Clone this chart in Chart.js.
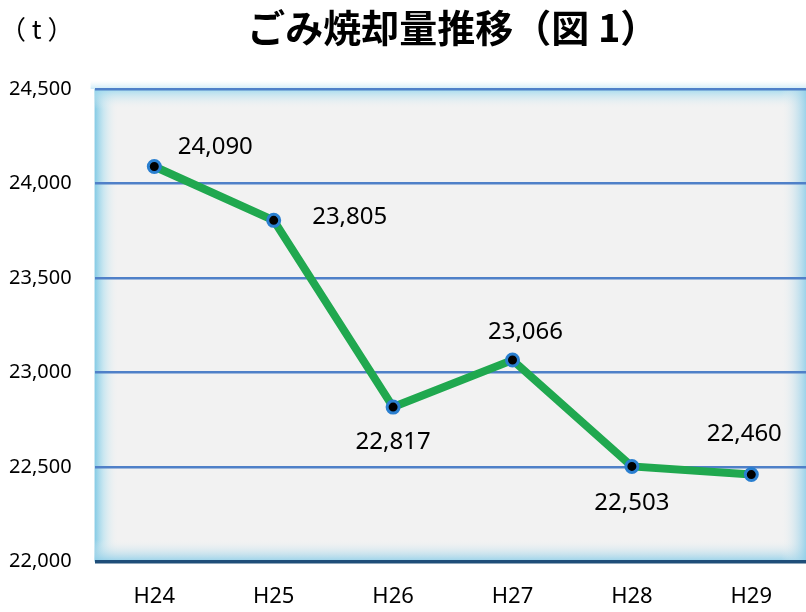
<!DOCTYPE html>
<html lang="ja">
<head>
<meta charset="utf-8">
<script src="https://cdn.jsdelivr.net/npm/chart.js@4"></script>
<style>
	html, body { margin: 0; padding: 0; background: #fff; overflow: hidden; }
	canvas { display: block; }
</style>
</head>
<body>
<canvas id="chart-gomi" width="812" height="612"></canvas>
<script>
// Data
const YEARS = ["H24", "H25", "H26", "H27", "H28", "H29"];
const TONNES = [24090, 23805, 22817, 23066, 22503, 22460];
const Y_TICKS = [22000, 22500, 23000, 23500, 24000, 24500];
const TITLE = "ごみ焼却量推移（図 1）";
const UNIT = "（ t ）";

// where each value label sits relative to its point (px)
const LABEL_OFFSETS = [[61, -19], [76, -3], [0, 35], [13, -28], [0, 37], [-7, -40]];

const fmt = (v) => v.toLocaleString("en-US");

// plot background with the soft blue glow round the edges
const frameBg = {
	id: "frameBg",
	beforeDraw(chart) {
		const { ctx, chartArea: a } = chart;
		const w = a.right - a.left, h = a.bottom - a.top;
		ctx.save();
		ctx.fillStyle = "#f2f2f2";
		ctx.fillRect(a.left, a.top, w, h);

		let g = ctx.createLinearGradient(a.left, 0, a.left + 24, 0);
		g.addColorStop(0, "rgba(125,200,228,0.95)");
		g.addColorStop(0.4, "rgba(180,225,240,0.6)");
		g.addColorStop(1, "rgba(242,242,242,0)");
		ctx.fillStyle = g;
		ctx.fillRect(a.left, a.top, 24, h);

		g = ctx.createLinearGradient(0, a.top, 0, a.top + 20);
		g.addColorStop(0, "rgba(150,215,238,0.85)");
		g.addColorStop(1, "rgba(242,242,242,0)");
		ctx.fillStyle = g;
		ctx.fillRect(a.left, a.top, w, 20);

		g = ctx.createLinearGradient(0, a.bottom - 22, 0, a.bottom);
		g.addColorStop(0, "rgba(242,242,242,0)");
		g.addColorStop(1, "rgba(140,205,232,0.9)");
		ctx.fillStyle = g;
		ctx.fillRect(a.left, a.bottom - 22, w, 22);

		g = ctx.createLinearGradient(a.right - 30, 0, a.right - 4, 0);
		g.addColorStop(0, "rgba(242,242,242,0)");
		g.addColorStop(1, "rgba(140,205,232,0.9)");
		ctx.fillStyle = g;
		ctx.fillRect(a.right - 30, a.top, 30, h);

		// faint halo above the top edge
		g = ctx.createLinearGradient(0, a.top - 8, 0, a.top);
		g.addColorStop(0, "rgba(200,235,245,0)");
		g.addColorStop(1, "rgba(170,220,240,0.6)");
		ctx.fillStyle = g;
		ctx.fillRect(a.left - 4, a.top - 8, w + 4, 8);
		ctx.restore();
	},
};

// title, unit and value labels
const texts = {
	id: "texts",
	afterDatasetsDraw(chart) {
		const { ctx, chartArea: a } = chart;
		ctx.save();
		ctx.fillStyle = "#000";
		ctx.textBaseline = "middle";

		ctx.textAlign = "center";
		ctx.font = "bold 38px 'Noto Sans CJK JP'";
		ctx.fillText(TITLE, (a.left + a.right) / 2, 28);

		ctx.textAlign = "left";
		ctx.font = "26px 'Noto Sans CJK JP'";
		ctx.fillText(UNIT, 0, 29);

		ctx.textAlign = "center";
		ctx.font = "24px 'Noto Sans'";
		const meta = chart.getDatasetMeta(0);
		meta.data.forEach((pt, i) => {
			const [dx, dy] = LABEL_OFFSETS[i];
			ctx.fillText(fmt(TONNES[i]), pt.x + dx, pt.y + dy);
		});
		ctx.restore();
	},
};

const CHART_DATA = {
	labels: YEARS,
	datasets: [
		{
			label: "ごみ焼却量",
			data: TONNES,
			borderColor: "#20a84f",
			borderWidth: 8,
			tension: 0,
			pointRadius: 6,
			pointBorderWidth: 3,
			pointBackgroundColor: "#000",
			pointBorderColor: "#2a7fd0",
			pointHoverRadius: 6,
		},
	],
};

const CHART_CONFIG = {
	type: "line",
	data: CHART_DATA,
	plugins: [frameBg, texts],
	options: {
		responsive: false,
		animation: false,
		layout: {
			autoPadding: false,
			// canvas is a bit wider than the picture: the plot runs past the right edge
			padding: { top: 89, right: 1, left: 0, bottom: 0 },
		},
		scales: {
			x: {
				offset: true,
				border: { display: false },
				grid: { display: false, drawTicks: false, offset: true },
				ticks: {
					color: "#000",
					font: { family: "'Noto Sans'", size: 22 },
					padding: 22,
				},
				afterFit: (s) => { s.height = 50.5; },
			},
			y: {
				min: Y_TICKS[0],
				max: Y_TICKS[Y_TICKS.length - 1],
				border: { display: false },
				grid: {
					drawTicks: false,
					color: (c) => (c.tick && c.tick.value === Y_TICKS[0] ? "#1f4e79" : "#4f80c8"),
					lineWidth: (c) => (c.tick && c.tick.value === Y_TICKS[0] ? 3.5 : 2.5),
				},
				afterBuildTicks: (s) => { s.ticks = Y_TICKS.map((v) => ({ value: v })); },
				ticks: {
					color: "#000",
					font: { family: "'Noto Sans'", size: 20 },
					padding: 23,
					callback: (v) => fmt(v),
				},
				afterFit: (s) => { s.width = 94.6; },
			},
		},
		plugins: {
			legend: { display: false },
			title: { display: false },
			tooltip: { enabled: false },
		},
	},
};

new Chart(document.getElementById("chart-gomi"), CHART_CONFIG);
</script>
</body>
</html>
